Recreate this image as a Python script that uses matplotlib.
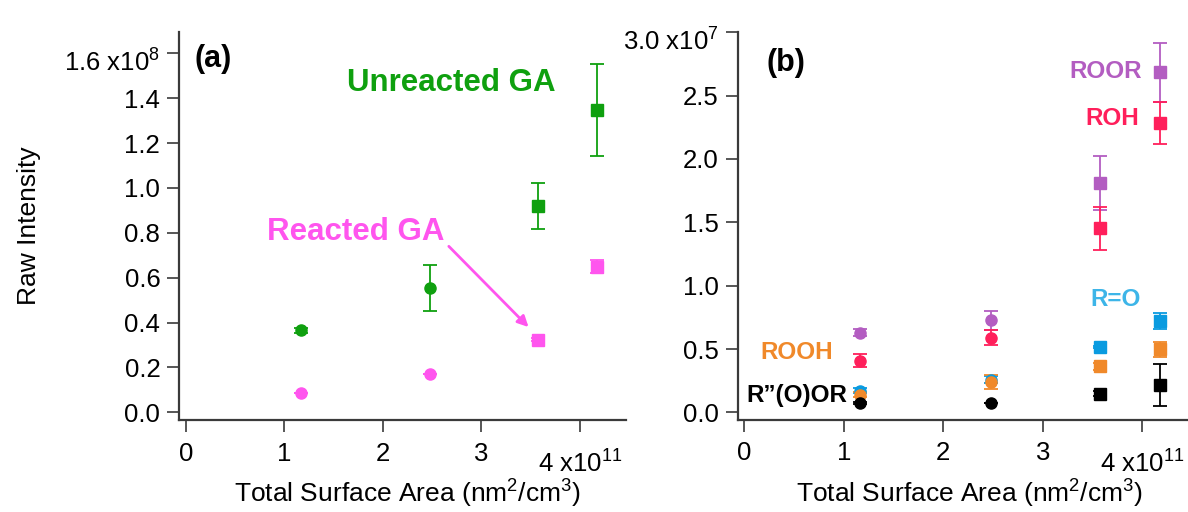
import matplotlib
matplotlib.use('Agg')
import matplotlib.pyplot as plt
import matplotlib.transforms as mtransforms

# Raw intensity vs total surface area, two panels (Igor-style axes)

plt.rcParams['font.family'] = ['Liberation Sans', 'DejaVu Sans']
plt.rcParams['mathtext.fontset'] = 'custom'
plt.rcParams['mathtext.rm'] = 'Liberation Sans'
plt.rcParams['mathtext.it'] = 'Liberation Sans:italic'
plt.rcParams['mathtext.bf'] = 'Liberation Sans:bold'

# x in units of 1e11 nm2/cm3
surface_area = [1.165, 2.48, 3.58, 4.18]

# panel (a): y in units of 1e8
unreacted_ga = [0.365, 0.554, 0.919, 1.348]
unreacted_err = [0.012, 0.104, 0.103, 0.205]
reacted_ga = [0.087, 0.173, 0.324, 0.650]
reacted_err = [0.0, 0.0, 0.008, 0.028]

# panel (b): y in units of 1e7
roor = [0.629, 0.726, 1.812, 2.683]
roor_err = [0.03, 0.075, 0.215, 0.233]
roh = [0.408, 0.589, 1.452, 2.286]
roh_err = [0.05, 0.06, 0.17, 0.167]
r_o = [0.171, 0.258, 0.516, 0.72]
r_o_err = [0.02, 0.03, 0.01, 0.063]
rooh = [0.139, 0.242, 0.363, 0.497]
rooh_err = [0.02, 0.055, 0.03, 0.06]
ester = [0.074, 0.074, 0.147, 0.215]
ester_err = [0.01, 0.0, 0.02, 0.165]

x_ticks = [0, 1, 2, 3, 4]
x_ticklabels = ['0', '1', '2', '3', '4 x10$^{11}$']
ya_ticks = [0.0, 0.2, 0.4, 0.6, 0.8, 1.0, 1.2, 1.4, 1.6]
ya_ticklabels = ['0.0', '0.2', '0.4', '0.6', '0.8', '1.0', '1.2', '1.4', '1.6 x10$^{8}$']
yb_ticks = [0.0, 0.5, 1.0, 1.5, 2.0, 2.5, 3.0]
yb_ticklabels = ['0.0', '0.5', '1.0', '1.5', '2.0', '2.5', '3.0 x10$^{7}$']

markers = ['o', 'o', 's', 's']

green = '#0fa00f'
pink = '#ff55ee'
purple = '#b35dc1'
red = '#ff1f5b'
blue = '#0a9be0'
orange = '#f0892a'
axcol = '#3a3a3a'


def plot_series(ax, y, err, color):
    for xi, yi, ei, m in zip(surface_area, y, err, markers):
        ax.errorbar(xi, yi, yerr=ei, fmt=m, color=color, ms=8, mec=color,
                    elinewidth=1.3, capsize=5, capthick=1.3)


def style_axis(ax):
    for s in ['top', 'right']:
        ax.spines[s].set_visible(False)
    for s in ['left', 'bottom']:
        ax.spines[s].set_color(axcol)
        ax.spines[s].set_linewidth(1.6)
    ax.tick_params(direction='out', length=8.5, width=1.2, color=axcol,
                   labelsize=18.5, pad=5)
    ax.tick_params(axis='x', pad=7)
    ax.set_xticks(x_ticks)
    ax.set_xticklabels(x_ticklabels)
    ax.set_xlabel('Total Surface Area (nm$^2$/cm$^3$)', fontsize=19)
    ax.xaxis.label.set_va('baseline')


def shift_label(fig, label, dy_px):
    off = mtransforms.ScaledTranslation(0, -dy_px / fig.dpi, fig.dpi_scale_trans)
    label.set_transform(label.get_transform() + off)


fig = plt.figure(figsize=(11.88, 5.12), dpi=100)
ax_a = fig.add_axes([179 / 1188, 92 / 512, 447 / 1188, 388 / 512])
ax_b = fig.add_axes([737.7 / 1188, 92.3 / 512, 450.3 / 1188, 387.4 / 512])

# (a)
plot_series(ax_a, unreacted_ga, unreacted_err, green)
plot_series(ax_a, reacted_ga, reacted_err, pink)
style_axis(ax_a)
ax_a.set_xlim(-0.071, 4.47)
ax_a.set_ylim(-0.034, 1.695)
ax_a.set_yticks(ya_ticks)
ax_a.set_yticklabels(ya_ticklabels)
ax_a.set_ylabel('Raw Intensity', fontsize=19)
ax_a.yaxis.set_label_coords(-0.309, 0.5)
ax_a.xaxis.set_label_coords(0.512, -0.213)
ax_a.text(0.09, 1.573, '(a)', fontsize=22, fontweight='bold', va='center')
ax_a.text(2.70, 1.466, 'Unreacted GA', fontsize=22.5, fontweight='bold',
          color=green, ha='center', va='center')
ax_a.text(1.72, 0.803, 'Reacted GA', fontsize=22.5, fontweight='bold',
          color=pink, ha='center', va='center')
ax_a.annotate('', xy=(3.48, 0.38), xytext=(2.67, 0.74),
              arrowprops=dict(arrowstyle='-|>', color=pink, lw=2,
                              mutation_scale=16, shrinkA=0, shrinkB=0))

# (b)
plot_series(ax_b, roor, roor_err, purple)
plot_series(ax_b, roh, roh_err, red)
plot_series(ax_b, r_o, r_o_err, blue)
plot_series(ax_b, rooh, rooh_err, orange)
plot_series(ax_b, ester, ester_err, 'black')
style_axis(ax_b)
ax_b.set_xlim(-0.066, 4.46)
ax_b.set_ylim(-0.058, 3.0)
ax_b.set_yticks(yb_ticks)
ax_b.set_yticklabels(yb_ticklabels)
ax_b.xaxis.set_label_coords(0.514, -0.213)
ax_b.text(0.225, 2.754, '(b)', fontsize=22, fontweight='bold', va='center')
ax_b.text(4.0, 2.69, 'ROOR', fontsize=17.5, fontweight='bold', color=purple,
          ha='right', va='center')
ax_b.text(3.97, 2.32, 'ROH', fontsize=17.5, fontweight='bold', color=red,
          ha='right', va='center')
ax_b.text(3.73, 0.89, 'R=O', fontsize=17.5, fontweight='bold', color='#3db5e8',
          ha='center', va='center')
ax_b.text(0.525, 0.474, 'ROOH', fontsize=17.5, fontweight='bold', color=orange,
          ha='center', va='center')
ax_b.text(0.525, 0.13, 'R\u201d(O)OR', fontsize=17.5, fontweight='bold',
          color='black', ha='center', va='center')

# Igor puts the exponent labels a little lower than the other tick labels
for ax in [ax_a, ax_b]:
    shift_label(fig, ax.get_xticklabels()[-1], 9)
    shift_label(fig, ax.get_yticklabels()[-1], 7)

fig.savefig('out.png', dpi=100)
plt.close(fig)
